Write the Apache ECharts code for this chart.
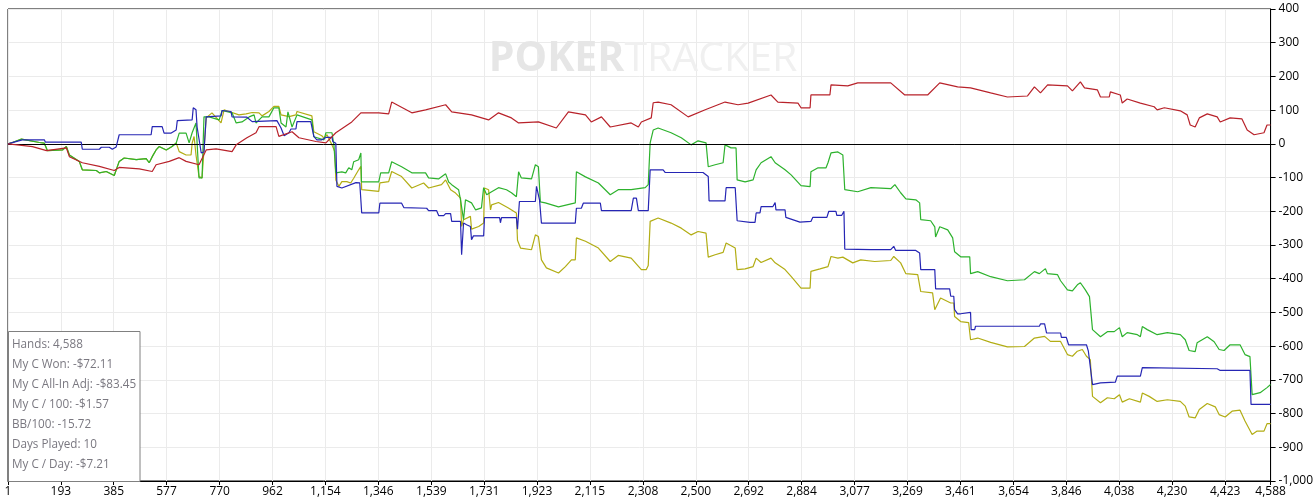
<!DOCTYPE html>
<html>
<head>
<meta charset="utf-8">
<script src="https://cdn.jsdelivr.net/npm/echarts@6/dist/echarts.min.js"></script>
<style>
html,body{margin:0;padding:0;background:#fff;}
#chart{width:1316px;height:502px;}
</style>
</head>
<body>
<div id="chart"></div>
<script>
// X-axis tick labels (hands)
const xTicks = [1,193,385,577,770,962,1154,1346,1539,1731,1923,2115,2308,2500,2692,2884,3077,3269,3461,3654,3846,4038,4230,4423,4588];

// Red series [hand, value]
const redData = [[1,0],[43,-4],[90,-8],[141,-20],[213,-12],[224,-38],[271,-56],[333,-67],[387,-79],[405,-70],[478,-74],[525,-82],[539,-62],[587,-52],[623,-41],[648,-52],[695,-62],[721,-18],[757,-15],[815,-23],[830,-3],[869,18],[902,33],[913,51],[975,51],[985,22],[1033,36],[1058,18],[1120,7],[1156,3],[1192,33],[1250,65],[1283,92],[1348,92],[1384,89],[1395,124],[1468,92],[1518,101],[1591,116],[1613,95],[1685,86],[1747,71],[1783,92],[1830,77],[1856,62],[1928,65],[1993,47],[2037,95],[2099,86],[2120,65],[2157,80],[2189,50],[2265,62],[2291,50],[2302,65],[2338,77],[2345,122],[2363,124],[2410,116],[2472,80],[2534,101],[2606,124],[2653,116],[2690,121],[2773,145],[2798,124],[2871,121],[2882,107],[2915,107],[2918,145],[2987,145],[2991,175],[3052,172],[3088,181],[3208,181],[3259,145],[3342,145],[3386,181],[3451,169],[3498,166],[3571,151],[3632,139],[3705,142],[3730,169],[3752,151],[3778,175],[3850,172],[3868,157],[3897,184],[3912,166],[3959,160],[3970,139],[4002,139],[4006,154],[4042,145],[4049,121],[4067,133],[4115,121],[4165,110],[4176,101],[4202,107],[4260,98],[4285,86],[4296,56],[4314,50],[4329,77],[4358,89],[4394,80],[4405,65],[4441,77],[4484,74],[4503,41],[4528,27],[4564,33],[4575,56],[4588,56]];

// Green series
const greenData = [[1,0],[17,4],[50,14],[115,4],[133,2],[144,-20],[199,-18],[213,-8],[224,-33],[260,-52],[271,-77],[322,-79],[333,-86],[358,-82],[387,-94],[405,-52],[423,-42],[467,-47],[503,-44],[514,-56],[525,-38],[539,-18],[550,-8],[576,-18],[597,-8],[612,2],[623,32],[648,32],[659,3],[670,33],[684,62],[695,-101],[706,-101],[713,80],[732,80],[768,71],[779,99],[815,92],[830,62],[851,65],[877,80],[895,86],[902,62],[924,80],[949,80],[967,107],[985,107],[993,62],[1011,50],[1018,95],[1033,50],[1051,86],[1105,71],[1112,21],[1149,12],[1156,33],[1178,33],[1185,-3],[1192,-86],[1214,-83],[1228,-86],[1239,-71],[1250,-77],[1257,-53],[1275,-47],[1283,-27],[1285,-113],[1348,-113],[1355,-86],[1384,-86],[1395,-53],[1431,-68],[1468,-86],[1518,-86],[1529,-101],[1565,-104],[1591,-89],[1602,-113],[1613,-121],[1638,-136],[1645,-166],[1656,-225],[1663,-166],[1685,-175],[1700,-196],[1721,-190],[1729,-130],[1740,-151],[1758,-142],[1783,-130],[1812,-136],[1830,-145],[1848,-157],[1856,-83],[1866,-101],[1903,-104],[1917,-62],[1928,-68],[1935,-172],[1953,-175],[2001,-187],[2062,-175],[2066,-83],[2099,-98],[2146,-116],[2189,-151],[2218,-136],[2265,-136],[2316,-130],[2327,-121],[2334,3],[2345,41],[2363,47],[2410,33],[2447,18],[2483,-3],[2508,9],[2537,3],[2545,-68],[2570,-62],[2599,-56],[2606,-3],[2628,-12],[2646,-12],[2650,-107],[2679,-113],[2708,-107],[2719,-77],[2737,-56],[2773,-38],[2788,-56],[2824,-77],[2846,-92],[2882,-124],[2915,-127],[2918,-83],[2944,-71],[2973,-71],[2980,-56],[2991,-27],[3016,-24],[3034,-33],[3041,-136],[3088,-142],[3136,-130],[3208,-133],[3223,-121],[3244,-145],[3263,-163],[3299,-166],[3313,-175],[3317,-225],[3353,-228],[3368,-246],[3371,-276],[3386,-246],[3415,-255],[3433,-279],[3440,-320],[3462,-335],[3495,-335],[3498,-385],[3524,-379],[3571,-394],[3632,-406],[3694,-403],[3730,-379],[3748,-385],[3770,-370],[3777,-385],[3814,-388],[3825,-406],[3850,-433],[3868,-436],[3886,-418],[3897,-412],[3915,-433],[3930,-453],[3933,-453],[3941,-551],[3970,-572],[3995,-557],[4020,-557],[4039,-545],[4049,-572],[4067,-560],[4104,-566],[4115,-572],[4122,-542],[4140,-551],[4176,-566],[4213,-560],[4260,-566],[4278,-581],[4292,-613],[4314,-616],[4321,-590],[4358,-572],[4383,-587],[4401,-610],[4419,-613],[4441,-596],[4477,-596],[4495,-625],[4513,-631],[4521,-744],[4550,-738],[4575,-723],[4588,-714]];

// Blue series
const blueData = [[1,0],[13,3],[53,12],[133,12],[137,5],[267,5],[271,-16],[333,-16],[340,-10],[369,-10],[380,-16],[394,-9],[405,27],[521,27],[525,51],[561,51],[568,32],[594,32],[597,36],[612,41],[616,69],[670,71],[674,107],[684,101],[688,50],[695,50],[703,-27],[713,-24],[721,80],[775,83],[779,99],[811,96],[815,80],[869,79],[888,66],[978,69],[993,47],[1004,24],[1022,33],[1029,44],[1047,44],[1051,66],[1101,66],[1112,22],[1123,12],[1141,12],[1156,19],[1178,19],[1181,7],[1192,2],[1196,-126],[1214,-131],[1221,-126],[1265,-115],[1279,-116],[1286,-205],[1348,-205],[1352,-176],[1431,-176],[1439,-189],[1522,-191],[1529,-198],[1558,-198],[1566,-213],[1584,-213],[1591,-207],[1609,-207],[1613,-230],[1645,-230],[1649,-329],[1656,-235],[1667,-240],[1681,-245],[1685,-284],[1692,-273],[1729,-273],[1732,-219],[1787,-219],[1790,-234],[1794,-219],[1848,-219],[1852,-253],[1859,-171],[1917,-171],[1921,-126],[1932,-166],[1939,-235],[2062,-235],[2066,-191],[2084,-191],[2091,-176],[2153,-176],[2157,-198],[2265,-198],[2273,-161],[2284,-161],[2291,-198],[2327,-198],[2334,-77],[2381,-77],[2389,-85],[2526,-85],[2545,-97],[2548,-169],[2606,-169],[2610,-130],[2643,-130],[2650,-228],[2697,-233],[2715,-233],[2719,-205],[2733,-205],[2737,-186],[2780,-186],[2788,-174],[2791,-196],[2824,-196],[2827,-218],[2878,-232],[2918,-230],[2925,-218],[2976,-218],[2983,-200],[3009,-200],[3012,-212],[3030,-212],[3038,-200],[3041,-312],[3136,-314],[3208,-314],[3219,-304],[3226,-316],[3299,-316],[3313,-324],[3317,-373],[3368,-373],[3371,-430],[3422,-430],[3426,-452],[3437,-452],[3440,-492],[3451,-504],[3462,-504],[3466,-500],[3498,-500],[3500,-551],[3513,-551],[3516,-541],[3748,-541],[3752,-534],[3767,-534],[3774,-561],[3825,-561],[3828,-574],[3846,-574],[3854,-596],[3919,-596],[3926,-615],[3933,-618],[3941,-714],[3970,-709],[4024,-707],[4031,-689],[4115,-689],[4122,-664],[4394,-667],[4405,-672],[4513,-672],[4517,-773],[4588,-773]];

// Olive series
const oliveData = [[1,0],[17,4],[50,14],[115,4],[133,2],[144,-20],[199,-18],[213,-8],[224,-33],[260,-52],[271,-77],[322,-79],[333,-86],[358,-82],[387,-94],[405,-52],[423,-42],[467,-47],[503,-44],[514,-56],[525,-38],[539,-18],[550,-8],[576,-18],[597,-8],[612,3],[623,-23],[648,-33],[666,-33],[670,2],[677,22],[684,-33],[695,-97],[706,-101],[721,77],[742,92],[775,62],[786,101],[804,96],[840,86],[866,89],[888,93],[913,92],[924,83],[949,96],[967,111],[985,111],[993,86],[1022,81],[1047,86],[1051,96],[1105,83],[1112,36],[1141,24],[1149,17],[1160,27],[1178,-3],[1188,-23],[1192,-107],[1203,-126],[1214,-112],[1232,-112],[1246,-116],[1257,-102],[1275,-77],[1283,-67],[1286,-136],[1348,-141],[1352,-116],[1384,-112],[1395,-82],[1431,-97],[1468,-131],[1511,-116],[1529,-131],[1576,-121],[1591,-107],[1609,-136],[1627,-146],[1645,-161],[1649,-245],[1656,-225],[1681,-215],[1685,-253],[1711,-245],[1729,-235],[1732,-131],[1747,-136],[1754,-196],[1758,-181],[1783,-174],[1819,-190],[1848,-205],[1852,-286],[1863,-309],[1903,-314],[1917,-270],[1928,-275],[1939,-344],[1957,-368],[2001,-383],[2026,-364],[2048,-344],[2062,-344],[2066,-279],[2099,-289],[2146,-309],[2189,-349],[2218,-331],[2265,-339],[2302,-373],[2320,-373],[2327,-361],[2334,-230],[2363,-220],[2410,-235],[2447,-250],[2483,-270],[2508,-260],[2537,-265],[2545,-336],[2570,-329],[2599,-322],[2610,-294],[2643,-309],[2650,-373],[2679,-371],[2708,-364],[2719,-339],[2737,-352],[2773,-339],[2788,-353],[2824,-373],[2846,-393],[2882,-428],[2915,-428],[2918,-378],[2951,-371],[2980,-364],[2991,-334],[3016,-339],[3034,-336],[3070,-353],[3099,-344],[3150,-349],[3208,-346],[3219,-334],[3244,-353],[3263,-385],[3306,-388],[3317,-438],[3360,-442],[3368,-492],[3389,-457],[3426,-472],[3437,-472],[3440,-512],[3462,-527],[3491,-530],[3498,-581],[3524,-576],[3571,-589],[3632,-602],[3694,-601],[3730,-576],[3767,-571],[3788,-586],[3825,-586],[3850,-625],[3868,-630],[3886,-615],[3904,-610],[3919,-630],[3933,-640],[3941,-749],[3970,-768],[3995,-753],[4020,-756],[4039,-744],[4049,-766],[4075,-756],[4115,-766],[4122,-739],[4147,-749],[4176,-764],[4213,-759],[4260,-764],[4278,-778],[4292,-810],[4314,-813],[4329,-788],[4358,-770],[4387,-780],[4401,-803],[4423,-810],[4448,-793],[4477,-790],[4495,-822],[4521,-862],[4539,-852],[4564,-852],[4575,-830],[4588,-830]];

// Stats panel lines
const statsLines = ['Hands: 4,588','My C Won: -$72.11','My C All-In Adj: -$83.45','My C / 100: -$1.57','BB/100: -15.72','Days Played: 10','My C / Day: -$7.21'];

const chart = echarts.init(document.getElementById('chart'), null, {renderer:'canvas'});
const FONT = '"Open Sans", "Noto Sans", sans-serif';
const fmt = v => Number(v).toLocaleString('en-US');

function lineSeries(name, data, color, z){
  return {
    name, type:'line', data, showSymbol:false, symbol:'none', z,
    lineStyle:{color, width:1.2}, itemStyle:{color}, animation:false, silent:true
  };
}

const series = [
  lineSeries('olive', oliveData, '#b2ad14', 3),
  lineSeries('green', greenData, '#2db22d', 4),
  lineSeries('blue', blueData, '#2626b4', 5),
  lineSeries('red', redData, '#b8222a', 6)
];
series[3].markLine = {
  silent:true, symbol:'none', animation:false, label:{show:false},
  lineStyle:{color:'#000', width:1, type:'solid'},
  data:[{yAxis:0}]
};

const statsText = statsLines.map(s => '{t|' + s + '}').join('\n');

chart.setOption({
  animation:false,
  backgroundColor:'#fff',
  grid:{left:8, right:42, top:9, bottom:21, show:true, borderColor:'#000', borderWidth:1, backgroundColor:'transparent'},
  xAxis:{
    type:'value', min:1, max:4588,
    axisLine:{show:true, onZero:false, lineStyle:{color:'#000'}},
    axisTick:{show:true, customValues:xTicks, length:4, lineStyle:{color:'#000'}},
    axisLabel:{customValues:xTicks, formatter:fmt, color:'#000', fontFamily:FONT, fontSize:12, margin:5, hideOverlap:false},
    splitLine:{show:true, lineStyle:{color:'#ebebeb', width:1}}
  },
  yAxis:{
    type:'value', position:'right', min:-1000, max:400, interval:100,
    axisLine:{show:true, lineStyle:{color:'#000'}},
    axisTick:{show:true, length:5, lineStyle:{color:'#000'}},
    axisLabel:{formatter:fmt, color:'#000', fontFamily:FONT, fontSize:12, margin:8},
    splitLine:{show:true, lineStyle:{color:'#ebebeb', width:1}}
  },
  graphic:[
    {
      type:'text', z:1, silent:true,
      style:{
        x:643, y:59, text:'{a|POKER}{b|TRACKER}', align:'center', verticalAlign:'middle',
        rich:{
          a:{fontFamily:FONT, fontWeight:'bold', fontSize:41, fill:'#e6e6e6', color:'#e6e6e6'},
          b:{fontFamily:FONT, fontWeight:'normal', fontSize:41, fill:'#f0f0f0', color:'#f0f0f0'}
        }
      }
    },
    {
      type:'rect', z:50, silent:true,
      shape:{x:8.5, y:331.5, width:131.5, height:150},
      style:{fill:'#fff', stroke:'#808080', lineWidth:1}
    },
    {
      type:'text', z:51, silent:true,
      style:{
        x:12, y:335, text:statsText,
        rich:{t:{fontFamily:FONT, fontSize:11.7, lineHeight:20, fill:'#7a7880', color:'#7a7880'}}
      }
    }
  ],
  series
});
</script>
</body>
</html>
